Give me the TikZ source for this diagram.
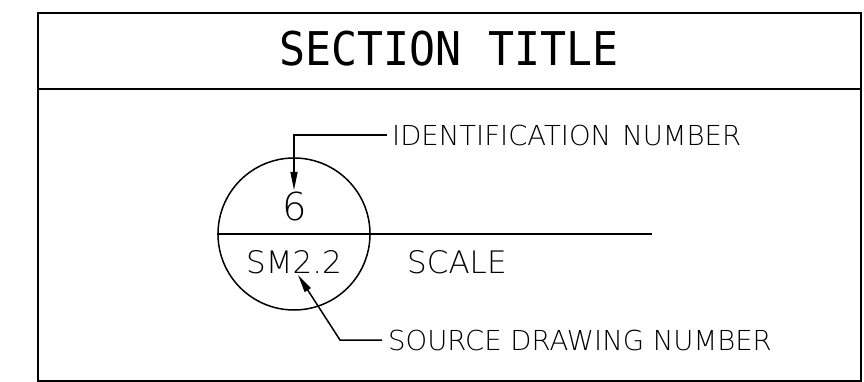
\documentclass[tikz,border=0pt]{standalone}
\usepackage{fontspec}
\setmainfont{DejaVu Sans ExtraLight}
\newfontfamily\titlefont[FakeStretch=0.93]{DejaVu Sans Mono}
\usetikzlibrary{arrows.meta}
\begin{document}
\begin{tikzpicture}[x=1pt,y=-1pt,
  frame/.style={line width=2pt},
  thin line/.style={line width=1.5pt},
  lbl/.style={inner sep=0pt,font=\fontsize{27.5}{27.5}\selectfont},
  leader/.style={line width=1.5pt,-{Triangle[length=18pt,width=7pt]}},
]
\useasboundingbox (0,0) rectangle (864,382);
% frame
\draw[frame] (37.7,13) rectangle (860.7,381);
\draw[frame] (37.7,89) -- (860.7,89);
\node[inner sep=0pt,font=\titlefont\fontsize{46.5}{46.5}\selectfont] (title) at (449,48.5) {SECTION TITLE};
% symbol
\node[draw,circle,thin line,minimum size=152pt,inner sep=0pt] (c) at (294,234) {};
\coordinate (lineend) at (652,234);
\draw[thin line] (c.west) -- (lineend);
\node[inner sep=0pt,font=\fontsize{38.5}{38.5}\selectfont] (num) at (295,206) {6};
\node[inner sep=0pt,font=\fontsize{31}{31}\selectfont] (src) at (294,262) {SM2.2};
\node[anchor=west,inner sep=0pt,font=\fontsize{31}{31}\selectfont] (scale) at (407,262) {SCALE};
% labels
\node[lbl,anchor=west] (idlbl) at (392,135) {IDENTIFICATION\hspace{11pt}NUMBER};
\node[lbl,anchor=west] (srclbl) at (388,340) {SOURCE DRAWING NUMBER};
\coordinate (idtip) at (294,190);
\coordinate (srctip) at (298,275);
\draw[leader] ([xshift=-5pt]idlbl.west) -- (idtip |- idlbl.west) -- (idtip);
\draw[leader] ([xshift=-6pt]srclbl.west) -- (340,340) -- (srctip);
\end{tikzpicture}
\end{document}
